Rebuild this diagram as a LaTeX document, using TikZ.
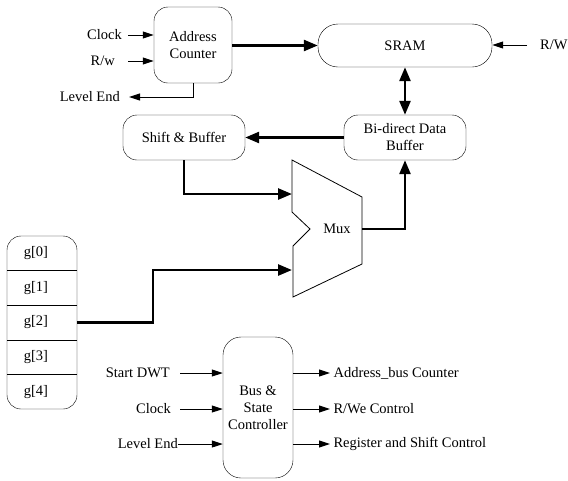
\documentclass[tikz,border=0pt]{standalone}
\usepackage{fontspec}
\setmainfont{Liberation Serif}
\usetikzlibrary{arrows.meta}
\begin{document}
\begin{tikzpicture}
  [x=1pt,y=-1pt,every node/.style={font=\fontsize{14.5}{17}\selectfont},
   blk/.style={draw,rounded corners=14pt,align=center,inner sep=0pt},
   sig/.style={line width=1pt,-{Triangle[length=11pt,width=7pt]}},
   bus/.style={line width=2.6pt,-{Triangle[length=14pt,width=11pt]}}]
    \useasboundingbox (0,0) rectangle (568,480);

    \node (ac)  [blk,minimum width=78pt,minimum height=76pt] at (193,45) {Address\\Counter};
    \node (sram)[blk,rounded corners=20pt,minimum width=174pt,minimum height=43pt] at (405,45.5) {SRAM};
    \node (bdb) [blk,minimum width=122pt,minimum height=45pt] at (405,137.5) {Bi-direct Data\\Buffer};
    \node (sb)  [blk,minimum width=122pt,minimum height=45pt] at (184,137.5) {Shift \& Buffer};
    \node (bsc) [blk,rounded corners=18pt,minimum width=70pt,minimum height=141pt] at (258,407.5) {Bus \&\\State\\Controller};

    % mux
    \draw[line width=0.8pt] (292,160) -- (362,197) -- (362,264) -- (293,297) -- (293,246)
      -- (310,229) -- (292,212) -- cycle;
    \node (mux) at (337,229) {Mux};
    \coordinate (muxa) at (292,194);
    \coordinate (muxb) at (292,270);
    \coordinate (muxo) at (362,229);

    % g array
    \node (g) [draw,rounded corners=14pt,minimum width=70pt,minimum height=173pt] at (42,322.5) {};
    \foreach \i in {0,...,4}
      \node (g\i) at (36,253.3+34.6*\i) {g[\i]};
    \foreach \i in {1,...,4}
      \draw (7,236+34.6*\i) -- (77,236+34.6*\i);

    % labels
    \node (clk1)[anchor=east,inner sep=0pt] at (122,35) {Clock};
    \node (rw1) [anchor=east,inner sep=0pt] at (115,61) {R/w};
    \node (le1) [anchor=east,inner sep=0pt] at (120,97) {Level End};
    \node (rw2) [anchor=west,inner sep=0pt] at (540,45) {R/W};
    \node (st)  [anchor=east,inner sep=0pt] at (170,373) {Start DWT};
    \node (clk2)[anchor=east,inner sep=0pt] at (171,409) {Clock};
    \node (le2) [anchor=east,inner sep=0pt] at (178,444) {Level End};
    \node (o1)  [anchor=west] at (330,373) {Address\_bus Counter};
    \node (o2)  [anchor=west] at (330,409) {R/We Control};
    \node (o3)  [anchor=west] at (330,444) {Register and Shift Control};

    \coordinate (c1) at (128,35);
    \coordinate (c2) at (128,61);
    \coordinate (c3) at (129,97);
    \coordinate (c4) at (527,45);
    \coordinate (c5) at (180,373);
    \coordinate (c6) at (180,409);

    \foreach \from in {c1,c2}
      \draw[sig] (\from) -- (\from -| ac.west);
    \draw[sig] (ac.south) |- (c3);
    \draw[sig] (c4) -- (c4 -| sram.east);
    \foreach \from in {c5,c6,le2.east}
      \draw[sig] (\from) -- (\from -| bsc.west);
    \foreach \to in {o1,o2,o3}
      \draw[sig] (\to.west -| bsc.east) -- (\to.west);

    \draw[bus] (ac.east |- sram.west) -- (sram.west);
    \draw[bus,{Triangle[length=14pt,width=11pt]}-{Triangle[length=14pt,width=11pt]}] (sram.south) -- (bdb.north);
    \draw[bus] (bdb.west) -- (sb.east);
    \draw[bus] (sb.south) |- (muxa);
    \draw[bus] (muxo) -| (bdb.south);
    \draw[bus] (g.east |- g2) -- (153,322.5) |- (muxb);
  \end{tikzpicture}
\end{document}
